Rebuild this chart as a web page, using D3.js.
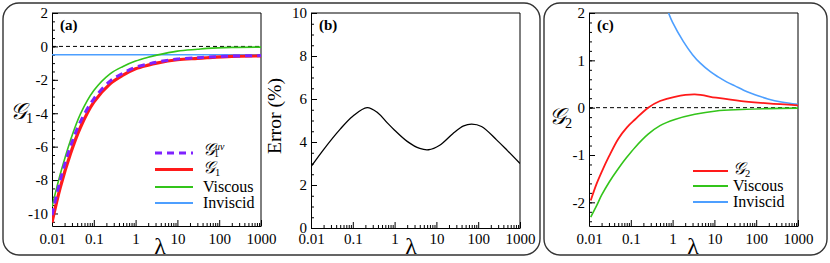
<!DOCTYPE html>
<html><head><meta charset="utf-8">
<script src="https://cdn.jsdelivr.net/npm/d3@7"></script>
<style>body{margin:0;background:#fff}svg{display:block}</style>
</head><body>
<svg id="c" width="830" height="263"></svg>
<script>
// ---- data ----
const xTicks = [0.01, 0.1, 1, 10, 100, 1000];
const xTickLabels = ["0.01", "0.1", "1", "10", "100", "1000"];

// panel (a)
const lamA = [0.01, 0.0158, 0.0275, 0.048, 0.1, 0.245, 0.5, 1, 2, 3.2, 10, 30, 51, 200, 1000];
const g1uv = [-10.1, -8.0, -6.0, -4.5, -3.14, -2.08, -1.6, -1.24, -1.05, -0.94, -0.76, -0.68, -0.64, -0.58, -0.55];
const g1 = [-10.54, -8.44, -6.44, -4.84, -3.34, -2.24, -1.72, -1.34, -1.12, -1.0, -0.8, -0.72, -0.68, -0.6, -0.57];
const g1Viscous = [-9.6, -7.64, -5.64, -4.04, -2.64, -1.64, -1.2, -0.88, -0.65, -0.52, -0.28, -0.17, -0.12, -0.06, -0.04];
const lamAInv = [0.01, 1000];
const g1Inviscid = [-0.5, -0.5];
const yTicksA = [2, 0, -2, -4, -6, -8, -10];
const yTickLabelsA = ["2", "0", "-2", "-4", "-6", "-8", "-10"];

// panel (b)
const lamB = [0.01, 0.02, 0.05, 0.1, 0.22, 0.4, 0.66, 1, 2, 4, 6.5, 12, 25, 45, 70, 120, 275, 500, 1000];
const errB = [2.85, 3.65, 4.6, 5.2, 5.6, 5.35, 4.9, 4.55, 4.03, 3.7, 3.64, 3.85, 4.4, 4.75, 4.83, 4.72, 4.1, 3.6, 3.0];
const yTicksB = [0, 2, 4, 6, 8, 10];
const yTickLabelsB = ["0", "2", "4", "6", "8", "10"];

// panel (c)
const lamC = [0.011, 0.015, 0.02, 0.03, 0.05, 0.08, 0.126, 0.26, 0.5, 1.13, 3.4, 11, 44, 190, 1000];
const g2 = [-1.96, -1.62, -1.36, -1.03, -0.66, -0.42, -0.25, 0.0, 0.14, 0.23, 0.28, 0.21, 0.14, 0.09, 0.05];
const g2Viscous = [-2.31, -2.08, -1.85, -1.58, -1.29, -1.05, -0.84, -0.56, -0.38, -0.25, -0.14, -0.07, -0.04, -0.02, -0.01];
const lamCInv = [0.8, 1.0, 1.8, 3, 4.6, 8, 12.3, 20, 31, 50, 78, 120, 190, 400, 1000];
const g2Inviscid = [2.0, 1.8, 1.40, 1.12, 0.94, 0.76, 0.65, 0.54, 0.46, 0.37, 0.30, 0.24, 0.185, 0.12, 0.07];
const yTicksC = [2, 1, 0, -1, -2];
const yTickLabelsC = ["2", "1", "0", "-1", "-2"];

// ---- drawing ----
const SERIF = "'Liberation Serif', 'Times New Roman', Times, serif";
const svg = d3.select("#c").style("font-family", SERIF);
const FONT = 15;
const C = {red: "#ff1a1a", green: "#33c41a", blue: "#4d9fff", purple: "#7f22ff"};

svg.append("rect").attr("x", 3).attr("y", 3).attr("width", 537).attr("height", 252)
  .attr("rx", 16).attr("fill", "none").attr("stroke", "#333").attr("stroke-width", 1.4);
svg.append("rect").attr("x", 544).attr("y", 3).attr("width", 283).attr("height", 252)
  .attr("rx", 16).attr("fill", "none").attr("stroke", "#333").attr("stroke-width", 1.4);

const minorX = [];
for (let e = -2; e < 3; e++) for (let m = 2; m <= 9; m++) minorX.push(m * Math.pow(10, e));

function txt(sel) { return sel.append("text").style("font-family", SERIF).attr("fill", "#000"); }

function makePanel(p) {
  const x = d3.scaleLog().domain([0.01, 1000]).range([p.x0, p.x1]);
  const y = d3.scaleLinear().domain(p.yDom).range([p.y1, p.y0]);
  const g = svg.append("g");
  const id = "clip" + p.name;
  svg.append("clipPath").attr("id", id).append("rect")
    .attr("x", p.x0).attr("y", p.y0).attr("width", p.x1 - p.x0).attr("height", p.y1 - p.y0);

  const minorY = [];
  for (let v = Math.ceil(p.yDom[0] / p.yMinor) * p.yMinor; v <= p.yDom[1] + 1e-9; v += p.yMinor)
    minorY.push(Math.round(v * 1000) / 1000);
  const axStyle = sel => {
    sel.attr("font-family", null).attr("font-size", null);
    sel.selectAll("path,line").attr("stroke", "#000");
    sel.selectAll("text").style("font-size", FONT + "px").style("font-family", SERIF);
  };

  g.append("g").attr("transform", `translate(0,${p.y1})`)
    .call(d3.axisBottom(x).tickValues(minorX).tickSize(-3).tickSizeOuter(0).tickFormat(""))
    .call(s => s.select(".domain").remove()).call(axStyle);
  g.append("g").attr("transform", `translate(0,${p.y1})`)
    .call(d3.axisBottom(x).tickValues(xTicks).tickSize(-6).tickSizeOuter(0).tickPadding(p.xPad)
      .tickFormat((d, i) => xTickLabels[i]))
    .call(axStyle);

  g.append("g").attr("transform", `translate(${p.x0},0)`)
    .call(d3.axisLeft(y).tickValues(minorY).tickSize(-3).tickSizeOuter(0).tickFormat(""))
    .call(s => s.select(".domain").remove()).call(axStyle);
  g.append("g").attr("transform", `translate(${p.x0},0)`)
    .call(d3.axisLeft(y).tickValues(p.yTicks).tickSize(-6).tickSizeOuter(0).tickPadding(4)
      .tickFormat((d, i) => p.yLabels[i]))
    .call(axStyle);

  g.append("line").attr("x1", p.x0).attr("x2", p.x1).attr("y1", p.y0).attr("y2", p.y0).attr("stroke", "#000");
  g.append("line").attr("x1", p.x1).attr("x2", p.x1).attr("y1", p.y0).attr("y2", p.y1).attr("stroke", "#000");

  const plot = g.append("g").attr("clip-path", `url(#${id})`);
  const line = d3.line().x(d => x(d[0])).y(d => y(d[1])).curve(d3.curveCatmullRom.alpha(0.5));
  if (p.zero) {
    plot.append("line").attr("x1", p.x0).attr("x2", p.x1).attr("y1", y(0)).attr("y2", y(0))
      .attr("stroke", "#000").attr("stroke-width", 1).attr("stroke-dasharray", "4,3");
  }
  p.series.forEach(s => {
    plot.append("path").datum(d3.zip(s.x, s.y)).attr("d", line).attr("fill", "none")
      .attr("stroke", s.color).attr("stroke-width", s.w).attr("stroke-dasharray", s.dash || null);
  });
  txt(g).attr("x", p.x0 + 8).attr("y", p.y0 + 17).style("font-size", "15px")
    .style("font-weight", "bold").text(p.tag);
  txt(g).attr("x", p.lamX).attr("y", 254).attr("text-anchor", "middle")
    .style("font-size", "24px").text("λ");
  return {x, y, g};
}

function gLabel(sel, x, y, size, sub, sup) {
  const t = txt(sel).attr("x", x).attr("y", y);
  t.append("tspan").style("font-size", size + "px").style("font-style", "italic").text("𝒢");
  if (sup) {
    t.append("tspan").style("font-size", (size * 0.58) + "px").style("font-style", "italic")
      .attr("dy", -size * 0.32).text(sup);
    t.append("tspan").style("font-size", (size * 0.58) + "px").attr("dx", -size * 0.58 * 1.05)
      .attr("dy", size * 0.46).text(sub);
  } else {
    t.append("tspan").style("font-size", (size * 0.62) + "px").attr("dy", size * 0.18).text(sub);
  }
  return t;
}

// panel (a)
makePanel({name: "a", tag: "(a)", x0: 52, x1: 261, y0: 13, y1: 226, yDom: [-10.75, 2], yMinor: 0.5,
  yTicks: yTicksA, yLabels: yTickLabelsA, zero: true, lamX: 160, xPad: 7,
  series: [
    {x: lamAInv, y: g1Inviscid, color: C.blue, w: 1.6},
    {x: lamA, y: g1Viscous, color: C.green, w: 1.6},
    {x: lamA, y: g1, color: C.red, w: 3.2},
    {x: lamA, y: g1uv, color: C.purple, w: 3, dash: "7,5"}
  ]});
gLabel(svg, 10, 119, 23, "1");

const legA = [
  {c: C.purple, w: 3, dash: "7,5", y: 153},
  {c: C.red, w: 3, y: 169.5},
  {c: C.green, w: 1.8, y: 187},
  {c: C.blue, w: 1.8, y: 203}
];
legA.forEach(l => svg.append("line").attr("x1", 155).attr("x2", 193).attr("y1", l.y).attr("y2", l.y)
  .attr("stroke", l.c).attr("stroke-width", l.w).attr("stroke-dasharray", l.dash || null));
gLabel(svg, 203, 155, 17, "1", "uv");
gLabel(svg, 203, 173, 17, "1");
txt(svg).attr("x", 203).attr("y", 192).style("font-size", "16px").text("Viscous");
txt(svg).attr("x", 203).attr("y", 208).style("font-size", "16px").text("Inviscid");

// panel (b)
makePanel({name: "b", tag: "(b)", x0: 311, x1: 520, y0: 13, y1: 228, yDom: [0, 10], yMinor: 0.5,
  yTicks: yTicksB, yLabels: yTickLabelsB, zero: false, lamX: 411, xPad: 5,
  series: [{x: lamB, y: errB, color: "#000", w: 1.3}]});
txt(svg).attr("transform", "translate(281,116) rotate(-90)").attr("text-anchor", "middle")
  .style("font-size", "18px").attr("textLength", 76).attr("lengthAdjust", "spacingAndGlyphs").text("Error (%)");

// panel (c)
makePanel({name: "c", tag: "(c)", x0: 589, x1: 798, y0: 13, y1: 226, yDom: [-2.5, 2], yMinor: 0.2,
  yTicks: yTicksC, yLabels: yTickLabelsC, zero: true, lamX: 693, xPad: 7,
  series: [
    {x: lamCInv, y: g2Inviscid, color: C.blue, w: 1.6},
    {x: lamC, y: g2Viscous, color: C.green, w: 1.6},
    {x: lamC, y: g2, color: C.red, w: 1.8}
  ]});
gLabel(svg, 549, 124, 23, "2");
const legC = [{c: C.red, y: 171}, {c: C.green, y: 186}, {c: C.blue, y: 202}];
legC.forEach(l => svg.append("line").attr("x1", 693).attr("x2", 728).attr("y1", l.y).attr("y2", l.y)
  .attr("stroke", l.c).attr("stroke-width", 1.8));
gLabel(svg, 733, 174, 17, "2");
txt(svg).attr("x", 733).attr("y", 191).style("font-size", "16px").text("Viscous");
txt(svg).attr("x", 733).attr("y", 207).style("font-size", "16px").text("Inviscid");
</script>
</body></html>
